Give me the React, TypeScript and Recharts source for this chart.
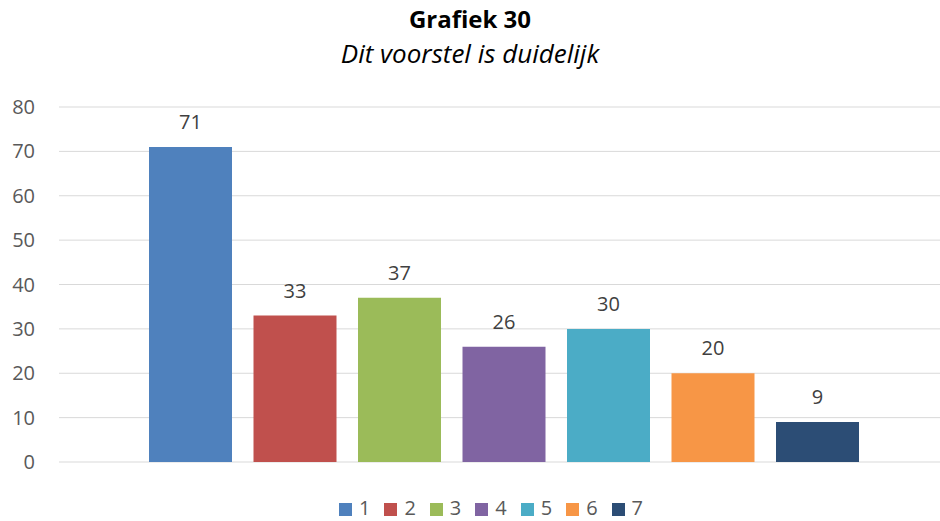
import React from 'react';
import { BarChart, Bar, XAxis, YAxis, CartesianGrid, Legend, LabelList } from 'recharts';

const categories = ['1', '2', '3', '4', '5', '6', '7'];
const values = [71, 33, 37, 26, 30, 20, 9];
const colors = ['#4F81BD', '#C0504D', '#9BBB59', '#8064A2', '#4BACC6', '#F79646', '#2C4D75'];
const yTicks = [0, 10, 20, 30, 40, 50, 60, 70, 80];

const row: Record<string, number | string> = { cat: '' };
categories.forEach((c, i) => { row['s' + c] = values[i]; });
const data = [row];

const FONT = '"Open Sans", Lato, sans-serif';

export default function App() {
  return (
    <div style={{ position: 'absolute', left: 0, top: 0, width: 940, height: 521, background: '#fff', fontFamily: FONT }}>
      <div style={{ position: 'absolute', left: 0, width: 940, top: 3, textAlign: 'center', fontSize: 24, fontWeight: 700, color: '#000', lineHeight: '32px' }}>Grafiek 30</div>
      <div style={{ position: 'absolute', left: 0, width: 940, top: 37, textAlign: 'center', fontSize: 26, fontStyle: 'italic', color: '#000', lineHeight: '32px' }}>Dit voorstel is duidelijk</div>
      <BarChart width={940} height={521} data={data} margin={{ top: 107, right: 0, left: 0, bottom: 32 }} barCategoryGap={81} barGap={21.5}>
        <CartesianGrid vertical={false} stroke="#D9D9D9" strokeWidth={1} />
        <XAxis dataKey="cat" hide padding={{ left: 9, right: 0 }} />
        <YAxis domain={[0, 80]} ticks={yTicks} width={59} axisLine={false} tickLine={false} tickSize={0} tickMargin={24}
          tick={{ fill: '#595959', fontSize: 20, fontFamily: FONT }} />
        <Legend verticalAlign="bottom" iconType="square" iconSize={13}
          wrapperStyle={{ bottom: 0, left: 0, width: 996, fontFamily: FONT, fontSize: 20 }}
          formatter={(v: string) => <span style={{ color: '#595959', marginLeft: 3, marginRight: 4 }}>{v}</span>} />
        {categories.map((c, i) => (
          <Bar key={c} dataKey={'s' + c} name={c} fill={colors[i]} isAnimationActive={false}>
            <LabelList dataKey={'s' + c} position="top" offset={18} fill="#404040" fontSize={20} fontFamily={FONT} />
          </Bar>
        ))}
      </BarChart>
    </div>
  );
}
